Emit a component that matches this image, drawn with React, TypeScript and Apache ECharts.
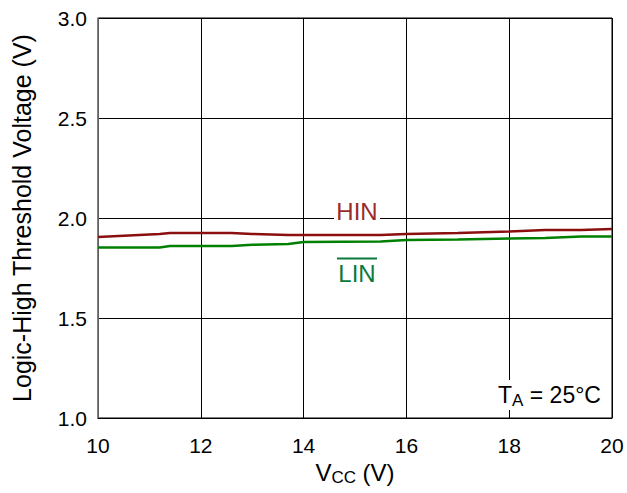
import React, { useEffect, useRef } from "react";
import * as echarts from "echarts";

const vcc = [10, 11.2, 11.4, 12.6, 13.0, 13.7, 14, 15.5, 16, 17, 18, 18.7, 19.4, 20];
const hin = [1.905, 1.92, 1.925, 1.925, 1.92, 1.915, 1.915, 1.915, 1.92, 1.925, 1.933, 1.94, 1.94, 1.945];
const lin = [1.853, 1.853, 1.86, 1.86, 1.866, 1.87, 1.88, 1.882, 1.89, 1.892, 1.898, 1.9, 1.907, 1.907];
const xTicks = [10, 12, 14, 16, 18, 20];
const yTicks = [1.0, 1.5, 2.0, 2.5, 3.0];

const FONT = "Liberation Sans, Arial, sans-serif";

export default function App() {
  const ref = useRef<HTMLDivElement>(null);
  useEffect(() => {
    const chart = echarts.init(ref.current!, null, { renderer: "svg" });
    const pair = (ys: number[]) => vcc.map((x, i) => [x, ys[i]]);
    chart.setOption({
      animation: false,
      backgroundColor: "#ffffff",
      grid: { left: 98, right: 15, top: 18, bottom: 75, show: true, borderColor: "#000", borderWidth: 1 },
      xAxis: {
        type: "value",
        min: 10,
        max: 20,
        interval: 2,
        axisLine: { show: true, lineStyle: { color: "#000", width: 1 } },
        axisTick: { show: false },
        splitLine: { show: true, lineStyle: { color: "#000", width: 1 } },
        axisLabel: { color: "#000", fontSize: 21, fontFamily: FONT, margin: 17, formatter: (v: number) => (xTicks.includes(v) ? String(v) : "") },
        name: "V{sub|CC} (V)",
        nameLocation: "middle",
        nameGap: 38,
        nameTextStyle: {
          color: "#000",
          fontSize: 24,
          fontFamily: FONT,
          rich: { sub: { fontSize: 17, fontFamily: FONT, color: "#000", padding: [10, 0, 0, 0] } },
        },
      },
      yAxis: {
        type: "value",
        min: 1,
        max: 3,
        interval: 0.5,
        axisLine: { show: true, lineStyle: { color: "#808080", width: 1.5 } },
        axisTick: { show: false },
        splitLine: { show: true, lineStyle: { color: "#000", width: 1 } },
        axisLabel: { color: "#000", fontSize: 21, fontFamily: FONT, margin: 11, formatter: (v: number) => (yTicks.includes(v) ? v.toFixed(1) : "") },
        name: "Logic-High Threshold Voltage (V)",
        nameLocation: "middle",
        nameGap: 64,
        nameTextStyle: { color: "#000", fontSize: 25, fontFamily: FONT },
      },
      series: [
        { type: "line", data: pair(hin), showSymbol: false, lineStyle: { color: "#8B0F0F", width: 2.5 }, z: 3 },
        { type: "line", data: pair(lin), showSymbol: false, lineStyle: { color: "#008000", width: 2.5 }, z: 3 },
      ],
      graphic: [
        { type: "rect", shape: { x: 334, y: 199, width: 46, height: 23 }, style: { fill: "#fff" }, z: 10 },
        { type: "text", x: 357, y: 211, style: { text: "HIN", fill: "#9B2A2A", fontSize: 24, fontFamily: FONT, align: "center", verticalAlign: "middle" }, z: 11 },
        { type: "text", x: 357, y: 273, style: { text: "LIN", fill: "#0A7A3C", fontSize: 24, fontFamily: FONT, align: "center", verticalAlign: "middle" }, z: 11 },
        { type: "line", shape: { x1: 337, y1: 258.5, x2: 377, y2: 258.5 }, style: { stroke: "#0A7A3C", lineWidth: 2 }, z: 11 },
        { type: "rect", shape: { x: 492, y: 380, width: 114, height: 30 }, style: { fill: "#fff" }, z: 10 },
        {
          type: "text",
          x: 498,
          y: 395,
          style: {
            text: "T{sub|A} = 25°C",
            fill: "#000",
            fontSize: 23,
            fontFamily: FONT,
            verticalAlign: "middle",
            rich: { sub: { fontSize: 17, fontFamily: FONT, fill: "#000", padding: [10, 0, 0, 0] } },
          },
          z: 11,
        },
      ],
    });
    return () => chart.dispose();
  }, []);
  return <div ref={ref} style={{ position: "fixed", left: 0, top: 0, width: 627, height: 493 }} />;
}
